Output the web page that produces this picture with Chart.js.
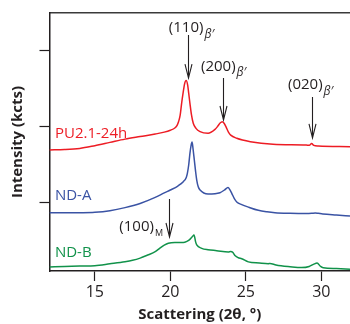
<!DOCTYPE html>
<html>
<head>
<meta charset="utf-8">
<script src="https://cdn.jsdelivr.net/npm/chart.js@4/dist/chart.umd.min.js"></script>
<style>
  body { margin: 0; background: #fff; }
  #wrap { width: 350px; height: 324px; }
</style>
</head>
<body>
<div id="wrap"><canvas id="canvas" width="350" height="324"></canvas></div>
<script>
// scattering angle (2theta, deg) and intensity for each sample
const puAngle  = [12.0, 13.0, 14.0, 15.0, 16.0, 17.0, 18.0, 19.0, 19.6, 20.0, 20.3, 20.45, 20.55, 20.65, 20.75, 20.85, 20.95, 21.05, 21.15, 21.22, 21.3, 21.4, 21.52, 21.7, 21.97, 22.5, 22.96, 23.15, 23.3, 23.44, 23.55, 23.69, 23.85, 24.0, 24.4, 25.3, 26.8, 29.0, 29.2, 29.36, 29.5, 29.8, 31.9];
const puCounts = [1.695, 1.70, 1.715, 1.752, 1.795, 1.838, 1.872, 1.905, 1.93, 1.955, 1.985, 2.02, 2.07, 2.15, 2.31, 2.45, 2.57, 2.61, 2.55, 2.44, 2.31, 2.16, 2.046, 1.98, 1.936, 1.915, 1.967, 2.01, 2.05, 2.067, 2.05, 2.00, 1.93, 1.89, 1.849, 1.804, 1.770, 1.760, 1.757, 1.78, 1.755, 1.747, 1.738];

const ndaAngle  = [12.0, 13.0, 14.0, 15.0, 16.0, 17.0, 18.0, 19.0, 19.6, 20.0, 20.5, 20.86, 21.05, 21.13, 21.22, 21.3, 21.38, 21.44, 21.5, 21.59, 21.67, 21.75, 21.85, 21.97, 22.5, 23.29, 23.6, 23.82, 23.95, 24.07, 24.25, 24.4, 24.73, 25.2, 25.83, 26.4, 26.93, 27.93, 29.0, 29.36, 29.6, 29.8, 30.1, 31.0, 31.9];
const ndaCounts = [0.868, 0.866, 0.868, 0.874, 0.895, 0.935, 0.99, 1.07, 1.13, 1.167, 1.22, 1.277, 1.33, 1.387, 1.50, 1.651, 1.76, 1.80, 1.72, 1.563, 1.42, 1.299, 1.21, 1.167, 1.115, 1.132, 1.17, 1.20, 1.17, 1.124, 1.05, 1.01, 0.975, 0.94, 0.90, 0.88, 0.868, 0.86, 0.857, 0.86, 0.865, 0.86, 0.852, 0.838, 0.825];

const ndbAngle  = [12.0, 13.0, 14.0, 15.0, 16.0, 17.0, 17.5, 18.0, 18.5, 19.0, 19.3, 19.6, 19.87, 20.3, 20.86, 21.1, 21.26, 21.45, 21.57, 21.68, 21.75, 22.08, 22.5, 23.07, 23.84, 24.0, 24.12, 24.3, 24.5, 24.73, 25.17, 25.9, 26.49, 26.6, 27.0, 27.93, 28.7, 29.2, 29.5, 29.72, 29.95, 30.13, 31.0, 31.9];
const ndbCounts = [0.153, 0.158, 0.165, 0.17, 0.195, 0.222, 0.241, 0.27, 0.31, 0.354, 0.399, 0.44, 0.465, 0.475, 0.475, 0.49, 0.51, 0.55, 0.574, 0.48, 0.443, 0.399, 0.38, 0.368, 0.35, 0.356, 0.35, 0.30, 0.275, 0.262, 0.22, 0.205, 0.196, 0.2, 0.18, 0.157, 0.145, 0.16, 0.19, 0.205, 0.16, 0.143, 0.132, 0.124];

const sampleNames  = ["PU2.1-24h", "ND-A", "ND-B"];
const sampleColors = ["#ed1c24", "#3a53a4", "#11924a"];
const nameX = [12.36, 12.36, 12.36];
const nameY = [1.905, 1.095, 0.344];

const xTicks = [15, 20, 25, 30];
const yTicks = [1, 2, 3];

// reflection labels and their arrows (data units)
const peakNames = ["(110)", "(200)", "(020)", "(100)"];
const peakSubs  = ["β′", "β′", "β′", "M"];
const peakTextX = [21.05, 23.18, 28.94, 17.77];
const peakTextY = [3.30, 2.79, 2.55, 0.68];
const arrowX    = [21.19, 23.47, 29.36, 19.89];
const arrowFrom = [3.21, 2.643, 2.393, 1.049];
const arrowTo   = [2.643, 2.09, 1.853, 0.548];

function toPoints(xs, ys) {
    return xs.map((x, i) => ({ x: x, y: ys[i] }));
}

const annotations = {
    id: "annotations",
    afterDatasetsDraw(chart) {
        const ctx = chart.ctx;
        const xs = chart.scales.x;
        const ys = chart.scales.y;
        ctx.save();

        // sample names next to each trace
        ctx.font = "15px 'Open Sans'";
        ctx.textAlign = "left";
        ctx.textBaseline = "middle";
        sampleNames.forEach((name, i) => {
            ctx.fillStyle = sampleColors[i];
            ctx.fillText(name, xs.getPixelForValue(nameX[i]), ys.getPixelForValue(nameY[i]));
        });

        // arrows
        ctx.strokeStyle = "#231f20";
        ctx.lineWidth = 1.1;
        arrowX.forEach((ax, i) => {
            const px = Math.round(xs.getPixelForValue(ax)) + 0.5;
            const top = ys.getPixelForValue(arrowFrom[i]);
            const tip = ys.getPixelForValue(arrowTo[i]);
            ctx.beginPath();
            ctx.moveTo(px, top);
            ctx.lineTo(px, tip);
            ctx.moveTo(px - 3.5, tip - 14);
            ctx.lineTo(px, tip);
            ctx.lineTo(px + 3.5, tip - 14);
            ctx.stroke();
        });

        // reflection labels with subscript
        ctx.fillStyle = "#231f20";
        peakNames.forEach((name, i) => {
            const cx = xs.getPixelForValue(peakTextX[i]);
            const cy = ys.getPixelForValue(peakTextY[i]);
            ctx.font = "15px 'Open Sans'";
            ctx.textAlign = "center";
            ctx.fillText(name, cx, cy);
            const w = ctx.measureText(name).width;
            ctx.textAlign = "left";
            ctx.font = peakSubs[i] === "M" ? "9px 'Open Sans'" : "italic 12px 'Open Sans'";
            ctx.fillText(peakSubs[i], cx + w / 2 + 1, cy + 6);
        });
        ctx.restore();
    }
};

const ctx = document.getElementById("canvas").getContext("2d");

new Chart(ctx, {
    type: "line",
    data: {
        datasets: [
            { data: toPoints(puAngle, puCounts), borderColor: sampleColors[0] },
            { data: toPoints(ndaAngle, ndaCounts), borderColor: sampleColors[1] },
            { data: toPoints(ndbAngle, ndbCounts), borderColor: sampleColors[2] }
        ]
    },
    options: {
        responsive: false,
        animation: false,
        layout: { padding: { top: 13, left: 0, right: 0, bottom: 0 } },
        elements: {
            line: { borderWidth: 1.5, cubicInterpolationMode: "monotone", fill: false },
            point: { radius: 0 }
        },
        plugins: {
            legend: { display: false },
            tooltip: { enabled: false }
        },
        scales: {
            x: {
                type: "linear",
                position: "bottom",
                min: 12,
                max: 31.9,
                afterBuildTicks: (s) => { s.ticks = xTicks.map(v => ({ value: v })); },
                afterFit: (s) => { s.height = 53; },
                grid: { display: true, drawOnChartArea: false, drawTicks: true, tickLength: 10, color: "#231f20", tickWidth: 1.2 },
                border: { display: true, color: "#231f20", width: 1.5 },
                ticks: { color: "#231f20", font: { family: "'Open Sans'", size: 16 }, padding: 2, maxRotation: 0 },
                title: {
                    display: true,
                    text: "Scattering (2θ, °)",
                    color: "#231f20",
                    font: { family: "'Open Sans'", size: 15, weight: "bold" },
                    padding: { top: 0, bottom: 0 }
                }
            },
            x2: {
                type: "linear",
                position: "top",
                min: 12,
                max: 31.9,
                afterFit: (s) => { s.height = 0; },
                grid: { display: false, drawTicks: false },
                ticks: { display: false },
                border: { display: true, color: "#3a3a3a", width: 1.5 }
            },
            y: {
                type: "linear",
                position: "left",
                min: 0.1,
                max: 3.5,
                afterBuildTicks: (s) => { s.ticks = yTicks.map(v => ({ value: v })); },
                afterFit: (s) => { s.width = 49.5; },
                grid: { display: true, drawOnChartArea: false, drawTicks: true, tickLength: 10, color: "#231f20", tickWidth: 1.2 },
                border: { display: true, color: "#231f20", width: 1.5 },
                ticks: { display: false },
                title: {
                    display: true,
                    text: "Intensity (kcts)",
                    color: "#231f20",
                    font: { family: "'Open Sans'", size: 15, weight: "bold" },
                    padding: { top: 9, bottom: 0 }
                }
            }
        }
    },
    plugins: [annotations]
});
</script>
</body>
</html>
